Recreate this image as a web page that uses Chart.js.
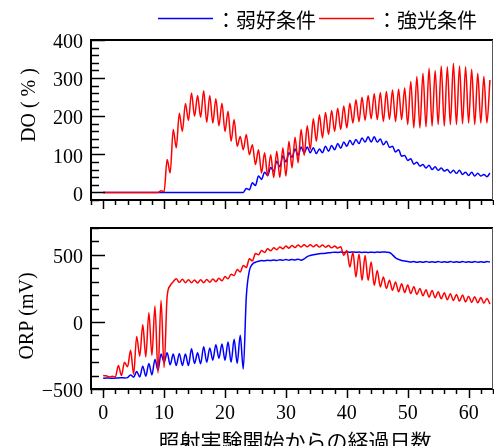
<!DOCTYPE html>
<html lang="ja">
<head>
<meta charset="utf-8">
<title>DO・ORP の経時変化</title>
<script src="https://cdn.jsdelivr.net/npm/chart.js@4.4.1/dist/chart.umd.min.js"></script>
<style>
  html, body { margin: 0; padding: 0; background: #fff; }
  #wrap { position: relative; width: 494px; height: 446px; overflow: hidden; }
  canvas { position: absolute; left: 0; }
  #doChart { top: 0; }
  #orpChart { top: 225px; }
</style>
</head>
<body>
<div id="wrap">
  <canvas id="doChart" width="494" height="225"></canvas>
  <canvas id="orpChart" width="494" height="221"></canvas>
</div>
<script>
// sampling days (every half day)
const days = [
  0,0.5,1,1.5,2,2.5,3,3.5,4,4.5, 5,5.5,6,6.5,7,7.5,8,8.5,9,9.5,
  10,10.5,11,11.5,12,12.5,13,13.5,14,14.5, 15,15.5,16,16.5,17,17.5,18,18.5,19,19.5,
  20,20.5,21,21.5,22,22.5,23,23.5,24,24.5, 25,25.5,26,26.5,27,27.5,28,28.5,29,29.5,
  30,30.5,31,31.5,32,32.5,33,33.5,34,34.5, 35,35.5,36,36.5,37,37.5,38,38.5,39,39.5,
  40,40.5,41,41.5,42,42.5,43,43.5,44,44.5, 45,45.5,46,46.5,47,47.5,48,48.5,49,49.5,
  50,50.5,51,51.5,52,52.5,53,53.5,54,54.5, 55,55.5,56,56.5,57,57.5,58,58.5,59,59.5,
  60,60.5,61,61.5,62,62.5,63,63.5
];

// DO (%)
const doStrong = [
  0,0,0,0,0,0,0,0,0,0,
  0,0,0,0,0,0,0,0,0,4,
  2,86,51,165,117,208,160,233,189,261,
  200,254,197,267,184,254,182,246,175,234,
  160,213,134,191,121,147,112,152,99,125,
  73,112,51,104,43,99,39,108,39,117,
  43,134,64,145,78,165,97,175,112,193,
  134,204,143,210,152,215,160,221,165,227,
  169,234,182,243,186,250,189,254,193,259,
  191,262,186,265,191,269,186,271,191,274,
  178,291,169,304,169,313,172,326,174,320,
  178,332,174,330,178,339,178,332,180,330,
  182,323,178,313,182,304,182,295
];
const doWeak = [
  0,0,0,0,0,0,0,0,0,0,
  0,0,0,0,0,0,0,0,0,0,
  0,0,0,0,0,0,0,0,0,0,
  0,0,0,0,0,0,0,0,0,0,
  0,0,0,0,0,0,0,10,7,25,
  18,43,34,53,44,65,56,82,67,96,
  80,104,92,114,97,119,104,119,104,117,
  102,114,104,121,108,123,112,128,116,132,
  121,137,125,139,128,143,132,146,132,146,
  132,140,125,134,118,121,106,112,95,97,
  84,88,74,79,69,73,64,71,60,67,
  58,64,56,60,51,58,50,58,47,53,
  44,53,43,50,43,47,41,51
];

// ORP (mV)
const orpStrong = [
  -400,-402,-410,-405,-410,-325,-400,-300,-335,-212,
  -390,-108,-255,-22,-260,69,-250,118,-380,160,
  -340,190,270,300,322,295,318,292,315,292,
  312,290,314,292,316,296,320,300,325,306,
  338,322,355,345,390,372,420,405,470,455,
  510,500,532,518,545,530,552,538,558,545,
  565,550,570,555,574,558,576,560,576,560,
  575,558,574,556,570,552,565,550,560,497,
  532,409,519,335,507,310,495,310,446,273,
  384,261,335,249,310,236,298,224,285,220,
  275,212,262,205,250,195,240,185,235,180,
  225,172,218,165,210,160,205,155,200,150,
  192,145,188,142,182,140,175,133
];
const orpWeak = [
  -420,-418,-418,-420,-418,-418,-416,-418,-415,-395,
  -412,-370,-410,-330,-405,-310,-395,-280,-360,-240,
  -300,-230,-320,-240,-325,-235,-325,-240,-325,-200,
  -310,-230,-312,-185,-300,-195,-285,-170,-270,-165,
  -285,-150,-300,-130,-310,-100,-350,190,380,430,
  445,452,458,455,460,457,462,458,463,460,
  465,460,466,462,468,460,470,487,495,500,
  505,508,510,512,515,517,520,518,521,518,
  522,519,522,519,521,518,520,517,520,518,
  521,519,522,520,518,500,478,466,458,454,
  450,446,450,444,449,444,450,445,449,444,
  450,445,449,444,450,445,449,444,450,445,
  449,444,450,445,449,444,450,446
];

const seriesNames = ['：強光条件', '：弱好条件'];
const xTitle = '照射実験開始からの経過日数';

const SERIF = '"Liberation Serif", "Times New Roman", serif';
const JP = '"Noto Sans CJK JP", "Noto Sans CJK SC", sans-serif';

function pts(vals) {
  return vals.map((v, i) => ({ x: days[i], y: v }));
}

// frame, major/minor tick marks, axis titles and the legend line
const frameTicks = {
  id: 'frameTicks',
  afterDraw(chart, args, opts) {
    const { ctx, chartArea: a, scales } = chart;
    ctx.save();
    ctx.strokeStyle = '#000';
    ctx.lineWidth = 1.5;
    scales.y.ticks.forEach(t => {
      const y = Math.round(scales.y.getPixelForValue(t.value)) + 0.5;
      const len = t.value % opts.yMajor === 0 ? 14 : 8;
      ctx.beginPath(); ctx.moveTo(a.left, y); ctx.lineTo(a.left + len, y); ctx.stroke();
    });
    scales.x.ticks.forEach(t => {
      const x = Math.round(scales.x.getPixelForValue(t.value)) + 0.5;
      const len = t.value % 10 === 0 ? 9 : 5;
      ctx.beginPath(); ctx.moveTo(x, a.bottom); ctx.lineTo(x, a.bottom + len); ctx.stroke();
    });
    ctx.lineWidth = 2;
    ctx.beginPath();
    ctx.moveTo(a.right, a.top); ctx.lineTo(a.left, a.top);
    ctx.lineTo(a.left, a.bottom); ctx.lineTo(a.right, a.bottom);
    ctx.stroke();
    ctx.lineWidth = 1;
    ctx.strokeStyle = '#555';
    ctx.beginPath(); ctx.moveTo(a.right - 0.5, a.top); ctx.lineTo(a.right - 0.5, a.bottom); ctx.stroke();

    // y title
    ctx.fillStyle = '#000';
    ctx.font = '20px ' + SERIF;
    ctx.textAlign = 'center';
    ctx.textBaseline = 'middle';
    ctx.save();
    ctx.translate(opts.titleX, opts.titleY);
    ctx.rotate(-Math.PI / 2);
    ctx.fillText(opts.yTitle, 0, 0);
    ctx.restore();

    if (opts.xTitle) {
      ctx.font = '21px ' + JP;
      ctx.fillText(opts.xTitle, (a.left + a.right) / 2 + 3, chart.height - 5);
    }

    if (opts.legend) {
      const ds = chart.data.datasets;
      const items = [ds[1], ds[0]];
      const starts = [158, 319];
      ctx.font = '20px ' + JP;
      ctx.textAlign = 'left';
      items.forEach((d, i) => {
        ctx.strokeStyle = d.borderColor;
        ctx.lineWidth = 1.5;
        ctx.beginPath(); ctx.moveTo(starts[i], 18.5); ctx.lineTo(starts[i] + 55, 18.5); ctx.stroke();
        ctx.fillStyle = '#000';
        ctx.fillText(d.label, starts[i] + 58, 20);
      });
    }
    ctx.restore();
  }
};

function makeChart(id, cfg) {
  return new Chart(document.getElementById(id), {
    type: 'line',
    data: {
      datasets: [
        { label: seriesNames[0], data: pts(cfg.strong), borderColor: '#ff0000', borderWidth: 1.5 },
        { label: seriesNames[1], data: pts(cfg.weak), borderColor: '#0000ff', borderWidth: 1.5 }
      ]
    },
    options: {
      responsive: false,
      animation: false,
      devicePixelRatio: 1,
      layout: { padding: { top: cfg.padTop, right: 1, left: 0, bottom: 0 } },
      elements: { point: { radius: 0 }, line: { cubicInterpolationMode: 'monotone' } },
      plugins: {
        legend: { display: false },
        tooltip: { enabled: false },
        frameTicks: cfg.frame
      },
      scales: {
        x: {
          type: 'linear', min: -2, max: 64,
          afterFit: s => { s.height = cfg.xHeight; s.paddingLeft = 0; s.paddingRight = 0; },
          grid: { display: false, drawTicks: true, tickLength: 9 },
          border: { display: false },
          ticks: {
            display: cfg.xLabels, stepSize: 2, autoSkip: false, maxRotation: 0,
            padding: 4, color: '#000', font: { family: SERIF, size: 20 },
            callback: v => (v % 10 === 0 ? String(v) : '')
          }
        },
        y: {
          min: cfg.yMin, max: cfg.yMax,
          afterFit: s => { s.width = 91; s.paddingTop = 0; s.paddingBottom = 0; },
          grid: { display: false, drawTicks: false },
          border: { display: false },
          ticks: {
            stepSize: cfg.yStep, autoSkip: false, padding: 8, labelOffset: 3,
            color: '#000', font: { family: SERIF, size: 20 },
            callback: v => (v % cfg.yMajor === 0 ? String(v).replace('-', '\u2212') : '')
          }
        }
      }
    },
    plugins: [frameTicks]
  });
}

makeChart('doChart', {
  strong: doStrong, weak: doWeak,
  padTop: 40, xHeight: 25, xLabels: false,
  yMin: -20, yMax: 400, yStep: 20, yMajor: 100,
  frame: { yMajor: 100, yTitle: 'DO ( % )', titleX: 30, titleY: 105, legend: true }
});

makeChart('orpChart', {
  strong: orpStrong, weak: orpWeak,
  padTop: 3, xHeight: 57, xLabels: true,
  yMin: -500, yMax: 700, yStep: 100, yMajor: 500,
  frame: { yMajor: 500, yTitle: 'ORP (mV)', titleX: 28, titleY: 91, xTitle: xTitle }
});
</script>
</body>
</html>
